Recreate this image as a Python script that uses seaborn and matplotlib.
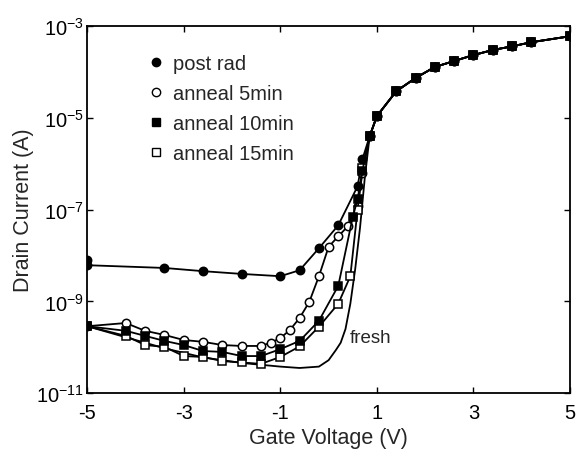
import numpy as np
import pandas as pd
import matplotlib
matplotlib.use("Agg")
import matplotlib.pyplot as plt
from matplotlib.lines import Line2D
import seaborn as sns

# ----------------------------
# DATA (log10 of drain current)
# ----------------------------
tail_v = [0.85, 1.0, 1.4, 1.8, 2.2, 2.6, 3.0, 3.4, 3.8, 4.2, 5.0]
tail_log = [-5.40, -4.96, -4.42, -4.13, -3.89, -3.76, -3.63, -3.52, -3.44, -3.35, -3.22]

post_v = [-5, -5, -3.4, -2.6, -1.8, -1.0, -0.6, -0.2, 0.2, 0.6, 0.7]
post_log = [-8.10, -8.21, -8.27, -8.34, -8.40, -8.45, -8.32, -7.84, -7.34, -6.49, -5.90]

a5_v = [-5, -4.2, -3.8, -3.4, -3.0, -2.6, -2.2, -1.8, -1.4, -1.2, -1.0, -0.8, -0.6,
        -0.4, -0.2, 0.0, 0.2, 0.4, 0.6, 0.7]
a5_log = [-9.54, -9.47, -9.64, -9.73, -9.84, -9.88, -9.95, -9.97, -9.97, -9.90, -9.80,
          -9.62, -9.36, -9.01, -8.45, -7.81, -7.58, -7.36, -6.92, -6.20]

a10_v = [-5, -4.2, -3.8, -3.4, -3.0, -2.6, -2.2, -1.8, -1.4, -1.0, -0.6, -0.2, 0.2,
         0.5, 0.6, 0.7]
a10_log = [-9.54, -9.64, -9.75, -9.86, -9.95, -10.08, -10.10, -10.19, -10.19, -10.04,
           -9.86, -9.42, -8.66, -7.16, -6.77, -6.15]

a15_v = [-5, -4.2, -3.8, -3.4, -3.0, -2.6, -2.2, -1.8, -1.4, -1.0, -0.6, -0.2, 0.2,
         0.45, 0.6, 0.7]
a15_log = [-9.54, -9.75, -9.95, -9.99, -10.19, -10.21, -10.30, -10.33, -10.36, -10.21,
           -9.98, -9.55, -9.05, -8.45, -7.00, -6.10]

fresh_v = [-5, -4.2, -3.4, -2.6, -1.8, -1.4, -1.0, -0.6, -0.2, 0.0, 0.15, 0.25, 0.35,
           0.45, 0.55, 0.65, 0.75]
fresh_log = [-9.54, -9.78, -10.02, -10.22, -10.34, -10.38, -10.42, -10.45, -10.42,
             -10.28, -10.06, -9.90, -9.60, -9.05, -8.30, -7.40, -6.30]

series_names = ["post rad", "anneal 5min", "anneal 10min", "anneal 15min"]
y_ticks = [1e-11, 1e-9, 1e-7, 1e-5, 1e-3]
y_tick_labels = [r"$\mathregular{10^{-11}}$", r"$\mathregular{10^{-9}}$",
                 r"$\mathregular{10^{-7}}$", r"$\mathregular{10^{-5}}$",
                 r"$\mathregular{10^{-3}}$"]
x_ticks = [-5, -3, -1, 1, 3, 5]

# ----------------------------
# STYLE
# ----------------------------
sns.set_style("ticks")
plt.rcParams["font.family"] = ["Liberation Sans", "DejaVu Sans"]
plt.rcParams["mathtext.fontset"] = "custom"
plt.rcParams["mathtext.rm"] = "Liberation Sans"

fig = plt.figure(figsize=(5.77, 4.6), dpi=100)
ax = fig.add_axes([0.151, 0.143, 0.837, 0.798])

# fresh curve first, then markers; anneal 10min last so filled squares sit on top
fresh = pd.DataFrame({"v": fresh_v + tail_v, "i": 10.0 ** np.array(fresh_log + tail_log)})
sns.lineplot(data=fresh, x="v", y="i", ax=ax, color="k", lw=1.3,
             estimator=None, sort=False)

styles = [
    (post_v, post_log, "o", "k"),
    (a5_v, a5_log, "o", "white"),
    (a15_v, a15_log, "s", "white"),
    (a10_v, a10_log, "s", "k"),
]

for v, lg, mk, fc in styles:
    df = pd.DataFrame({"v": v + tail_v, "i": 10.0 ** np.array(lg + tail_log)})
    sns.lineplot(data=df, x="v", y="i", ax=ax, color="k", lw=1.3, marker=mk,
                 markersize=6, markerfacecolor=fc, markeredgecolor="k",
                 markeredgewidth=1.1, estimator=None, sort=False)

ax.text(0.44, 10 ** -9.78, "fresh", fontsize=13.5, va="center", ha="left")

ax.set_yscale("log")
ax.set_xlim(-5, 5)
ax.set_ylim(1e-11, 1e-3)
ax.set_yticks(y_ticks)
ax.set_yticklabels(y_tick_labels)
ax.yaxis.set_minor_locator(matplotlib.ticker.NullLocator())
ax.set_xticks(x_ticks)
ax.set_xticklabels([str(t) for t in x_ticks])
ax.tick_params(direction="in", length=4, width=1, top=True, right=True,
               labelsize=14.5, colors="k")
ax.tick_params(axis="x", pad=7)
ax.tick_params(axis="y", pad=2)
for s in ax.spines.values():
    s.set_linewidth(1.3)
    s.set_color("k")

ax.set_xlabel("Gate Voltage (V)", fontsize=15.5, labelpad=4)
ax.set_ylabel("Drain Current (A)", fontsize=15.5, labelpad=2)

handles = [
    Line2D([], [], ls="none", marker="o", ms=6, mfc="k", mec="k"),
    Line2D([], [], ls="none", marker="o", ms=6, mfc="white", mec="k"),
    Line2D([], [], ls="none", marker="s", ms=6, mfc="k", mec="k"),
    Line2D([], [], ls="none", marker="s", ms=6, mfc="white", mec="k"),
]
ax.legend(handles, series_names, frameon=False, loc="upper left",
          bbox_to_anchor=(0.125, 0.925), borderpad=0, borderaxespad=0,
          handlelength=0.8, handletextpad=0.45, labelspacing=0.55, fontsize=14.5)

fig.savefig("out.png", dpi=100)
